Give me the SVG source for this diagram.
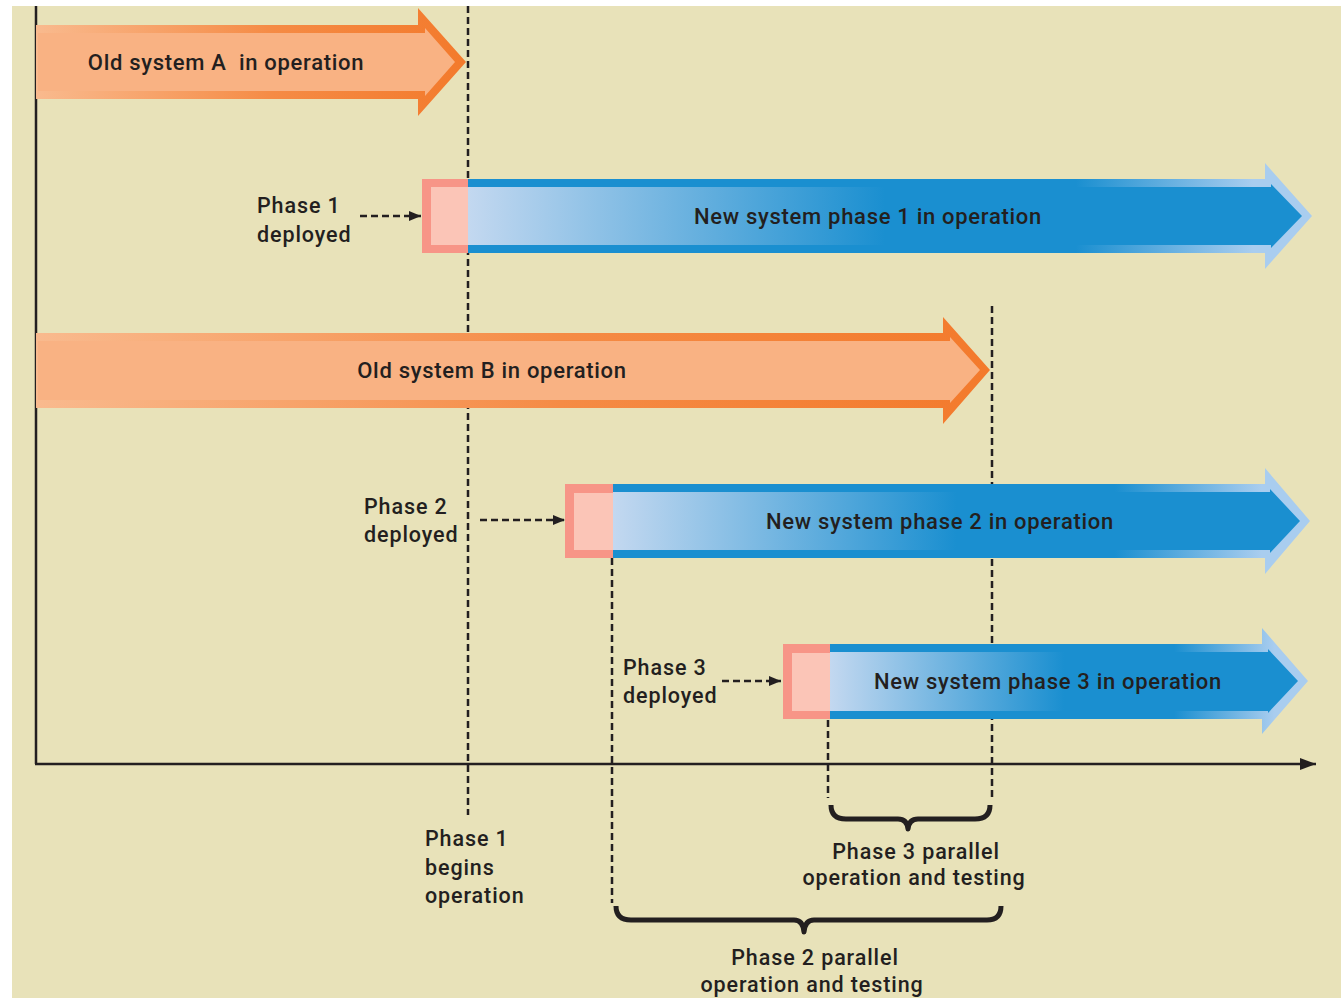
<svg xmlns="http://www.w3.org/2000/svg" width="1341" height="998" viewBox="0 0 1341 998">
<style>
.lbl{font-family:Roboto,"Liberation Sans",Arial,sans-serif;font-weight:500;font-size:22px;fill:#231F20;letter-spacing:0.7px}
.sm{font-family:Roboto,"Liberation Sans",Arial,sans-serif;font-weight:500;font-size:21.5px;fill:#231F20;letter-spacing:0.9px}
.mid{text-anchor:middle}
.dash{stroke:#231F20;stroke-width:2.5;stroke-dasharray:7 4;fill:none}
.axis{stroke:#231F20;stroke-width:2.5;fill:none}
.brace{stroke:#231F20;stroke-width:5;fill:none;stroke-linejoin:round}
.pinkO{fill:#F79587}
.pinkI{fill:#FBC5B7}
.orO{fill:url(#gOrO)}
.orI{fill:#F9B283}
.blO{fill:url(#gBlO)}
.blI{fill:url(#gBlI)}
</style>
<defs>
<linearGradient id="gOrO" x1="0" y1="0" x2="1" y2="0">
<stop offset="0" stop-color="#F9BA8E"/>
<stop offset="0.55" stop-color="#F58B45"/>
<stop offset="1" stop-color="#F37A2C"/>
</linearGradient>
<linearGradient id="gBlO" x1="0" y1="0" x2="1" y2="0">
<stop offset="0" stop-color="#1A8FD0"/>
<stop offset="0.72" stop-color="#1A8FD0"/>
<stop offset="0.93" stop-color="#A9CDEF"/>
<stop offset="1" stop-color="#A9CDEF"/>
</linearGradient>
<linearGradient id="gBlI" x1="0" y1="0" x2="1" y2="0">
<stop offset="0" stop-color="#C3D8F0"/>
<stop offset="0.5" stop-color="#1A8FD0"/>
<stop offset="1" stop-color="#1A8FD0"/>
</linearGradient>
<marker id="ah" viewBox="0 0 12 10" refX="12" refY="5" markerWidth="12" markerHeight="10" markerUnits="userSpaceOnUse" orient="auto">
<path d="M0,0 L12,5 L0,10 Z" fill="#231F20"/>
</marker>
<marker id="axh" viewBox="0 0 16 12" refX="16" refY="6" markerWidth="16" markerHeight="12" markerUnits="userSpaceOnUse" orient="auto">
<path d="M0,0 L16,6 L0,12 Z" fill="#231F20"/>
</marker>
</defs>
<rect x="0" y="0" width="1341" height="998" fill="#FFFFFF"/>
<rect x="12" y="6" width="1329" height="992" fill="#E8E2B9"/>

<g id="connectors">
<line class="dash" x1="468" y1="6" x2="468" y2="815"/>
<line class="dash" x1="992" y1="306" x2="992" y2="798"/>
<line class="dash" x1="612" y1="558" x2="612" y2="903"/>
<line class="dash" x1="828" y1="720" x2="828" y2="798"/>
<line class="axis" x1="36" y1="6" x2="36" y2="764"/>
<line class="axis" x1="35" y1="764" x2="1316" y2="764" marker-end="url(#axh)"/>
<line class="dash" x1="360" y1="216" x2="421" y2="216" marker-end="url(#ah)"/>
<line class="dash" x1="480" y1="520" x2="565" y2="520" marker-end="url(#ah)"/>
<line class="dash" x1="722" y1="681" x2="781" y2="681" marker-end="url(#ah)"/>
<path class="brace" d="M831,805 Q831,819 846,819 L898,819 Q907,819 908,829 Q909,819 918,819 L975,819 Q990,819 990,805"/>
<path class="brace" d="M616,906 Q616,920 631,920 L794,920 Q803,920 804,932 Q805,920 814,920 L987,920 Q1001,920 1001,906"/>
</g>

<g id="old-system-a">
<path class="orO" d="M36,25 L418,25 L418,8 L466,62 L418,116 L418,99 L36,99 Z"/>
<path class="orI" d="M38,33 L425,33 L425,28 L455,62 L425,96 L425,91 L38,91 Z"/>
<text class="lbl mid" x="226" y="70">Old system A&#160; in operation</text>
</g>

<g id="new-phase-1">
<rect class="pinkO" x="422" y="179" width="46" height="74"/>
<rect class="pinkI" x="431" y="187" width="37" height="58"/>
<path class="blO" d="M468,179 L1265,179 L1265,163 L1312,216 L1265,269 L1265,253 L468,253 Z"/>
<path class="blI" d="M468,187 L1271,187 L1271,184 L1302,216 L1271,248 L1271,245 L468,245 Z"/>
<text class="lbl mid" x="868" y="224">New system phase 1 in operation</text>
</g>

<g id="phase-1-deployed">
<text class="sm" x="257" y="213">Phase 1</text>
<text class="sm" x="257" y="242">deployed</text>
</g>

<g id="old-system-b">
<path class="orO" d="M36,333 L943,333 L943,317 L990,370 L943,424 L943,408 L36,408 Z"/>
<path class="orI" d="M38,341 L950,341 L950,337 L980,370 L950,403 L950,400 L38,400 Z"/>
<text class="lbl mid" x="492" y="378">Old system B in operation</text>
</g>

<g id="new-phase-2">
<rect class="pinkO" x="565" y="484" width="48" height="74"/>
<rect class="pinkI" x="574" y="493" width="39" height="57"/>
<path class="blO" d="M613,484 L1265,484 L1265,468 L1310,521 L1265,574 L1265,558 L613,558 Z"/>
<path class="blI" d="M613,492 L1270,492 L1270,489 L1300,521 L1270,553 L1270,550 L613,550 Z"/>
<text class="lbl mid" x="940" y="529">New system phase 2 in operation</text>
</g>

<g id="phase-2-deployed">
<text class="sm" x="364" y="514">Phase 2</text>
<text class="sm" x="364" y="542">deployed</text>
</g>

<g id="new-phase-3">
<rect class="pinkO" x="783" y="644" width="47" height="75"/>
<rect class="pinkI" x="792" y="653" width="38" height="58"/>
<path class="blO" d="M830,644 L1262,644 L1262,628 L1308,681 L1262,734 L1262,719 L830,719 Z"/>
<path class="blI" d="M830,652 L1268,652 L1268,649 L1298,681 L1268,713 L1268,711 L830,711 Z"/>
<text class="lbl mid" x="1048" y="689">New system phase 3 in operation</text>
</g>

<g id="phase-3-deployed">
<text class="sm" x="623" y="675">Phase 3</text>
<text class="sm" x="623" y="703">deployed</text>
</g>

<g id="phase-1-begins">
<text class="sm" x="425" y="846">Phase 1</text>
<text class="sm" x="425" y="875">begins</text>
<text class="sm" x="425" y="903">operation</text>
</g>

<g id="phase-3-parallel">
<text class="sm mid" x="916" y="859">Phase 3 parallel</text>
<text class="sm mid" x="914" y="885">operation and testing</text>
</g>

<g id="phase-2-parallel">
<text class="sm mid" x="815" y="965">Phase 2 parallel</text>
<text class="sm mid" x="812" y="992">operation and testing</text>
</g>
</svg>
